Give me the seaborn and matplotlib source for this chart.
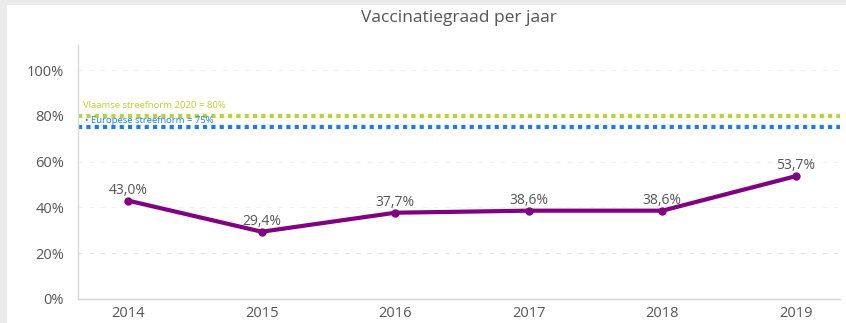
import matplotlib
matplotlib.use("Agg")
import matplotlib.pyplot as plt
from matplotlib.patches import Rectangle
import seaborn as sns
import pandas as pd

years = ["2014", "2015", "2016", "2017", "2018", "2019"]
rates = [43.0, 29.4, 37.7, 38.6, 38.6, 53.7]
flemish_target = 80
european_target = 75
flemish_label = "Vlaamse streefnorm 2020 = 80%"
european_label = "Europese streefnorm = 75%"
y_ticks = [0, 20, 40, 60, 80, 100]

sns.set_theme(style="white")
plt.rcParams["font.family"] = ["Open Sans", "DejaVu Sans"]

df = pd.DataFrame({"jaar": years, "graad": rates})
df["pos"] = range(len(years))

fig = plt.figure(figsize=(8.46, 3.23), dpi=100)
fig.patch.set_facecolor("white")
# light grey frame strips on the left and top
fig.patches.append(Rectangle((0, 0), 7 / 846, 1, transform=fig.transFigure,
                             facecolor="#ebebeb", edgecolor="none", zorder=0))
fig.patches.append(Rectangle((0, 1 - 5 / 323), 1, 5 / 323, transform=fig.transFigure,
                             facecolor="#ebebeb", edgecolor="none", zorder=0))

ax = fig.add_axes([78 / 846, 1 - 299 / 323, (840 - 78) / 846, (299 - 45) / 323])

for t in y_ticks[1:]:
    ax.axhline(t, color="#e3e3e3" if t == 20 else "#f0f0f0", lw=0.8,
               ls=(0, (4, 6)), zorder=0)

ax.axhline(flemish_target, color="#b7d433", lw=3, ls=(0, (1, 1)), zorder=1)
ax.axhline(european_target, color="#1a7bf5", lw=3, ls=(0, (1, 1)), zorder=1)

sns.lineplot(data=df, x="pos", y="graad", ax=ax, color="#800080", lw=3,
             marker="o", markersize=6, markeredgewidth=0, zorder=3)

for x, v in zip(df["pos"], df["graad"]):
    ax.annotate(f"{v:.1f}%".replace(".", ","), (x, v), xytext=(0, 2),
                textcoords="offset points", ha="center", va="bottom",
                fontsize=10, color="#555555")

ax.text(-0.34, flemish_target + 2.5, flemish_label, fontsize=6.8,
        color="#b7d433", ha="left", va="bottom")
ax.text(-0.32, european_target + 1.0, "\u2022 " + european_label, fontsize=6.8,
        color="#1a7bf5", ha="left", va="bottom")

ax.set_xlim(-0.375, 5.33)
ax.set_ylim(0, 111)
ax.set_xticks(df["pos"])
ax.set_xticklabels(years)
ax.set_yticks(y_ticks)
ax.set_yticklabels([f"{t}%" for t in y_ticks])
ax.tick_params(axis="both", colors="#555555", labelsize=10.5, length=0, pad=5)
ax.tick_params(axis="y", pad=10)
ax.set_xlabel("")
ax.set_ylabel("")
for s in ["top", "right"]:
    ax.spines[s].set_visible(False)
for s in ["left", "bottom"]:
    ax.spines[s].set_color("#d9d9d9")
    ax.spines[s].set_linewidth(1)

fig.text(0.5 + 0.5 * 78 / 846 - 0.5 * 6 / 846, 1 - 18 / 323, "Vaccinatiegraad per jaar",
         ha="center", va="center", fontsize=12.5, color="#555555")

fig.savefig("out.png", dpi=100)
